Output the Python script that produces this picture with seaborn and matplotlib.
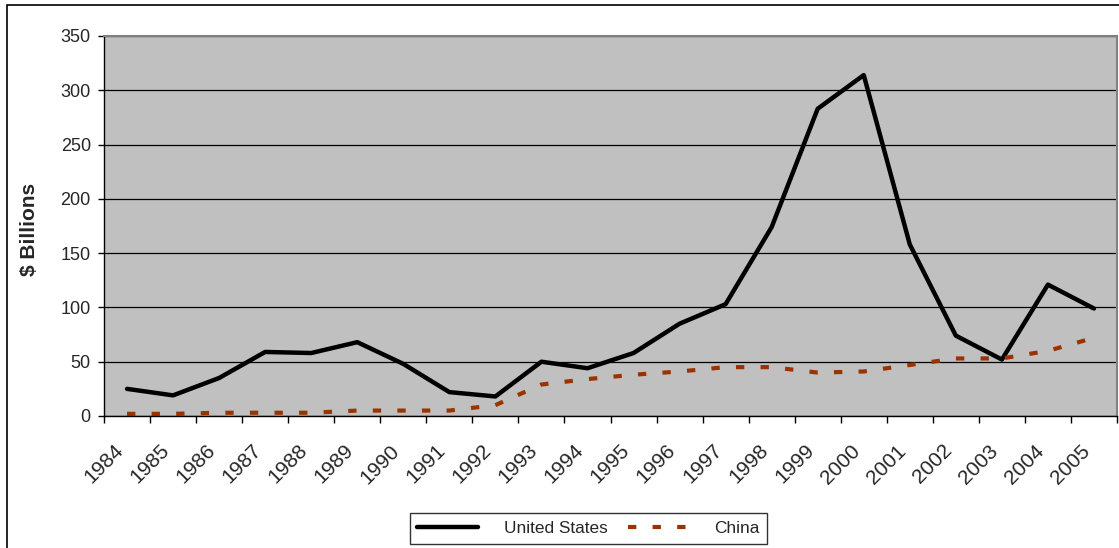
import numpy as np
import pandas as pd
import matplotlib
matplotlib.use("Agg")
import matplotlib.pyplot as plt
from matplotlib.patches import Rectangle
from matplotlib.ticker import FixedLocator
import seaborn as sns

years = list(range(1984, 2006))
us_values = [25, 19, 35, 59, 58, 68, 48, 22, 18, 50, 44, 58, 85, 103, 174, 283, 314, 158, 74, 52, 121, 99]
china_values = [2, 2, 3, 3, 3, 5, 5, 5, 10, 29, 34, 38, 41, 45, 45, 40, 41, 47, 53, 53, 60, 72]
year_labels = [str(y) for y in years]

sns.set_style("white")
plt.rcParams['font.family'] = ['Liberation Sans', 'DejaVu Sans']

df = pd.DataFrame({
    "pos": np.arange(len(years)) + 0.5,
    "United States": us_values,
    "China": china_values,
})

W, H = 1119, 548
fig = plt.figure(figsize=(W / 100, H / 100), dpi=100)
ax = fig.add_axes([104 / W, 1 - 416 / H, (1117 - 104) / W, (416 - 36) / H])
ax.set_facecolor("#C0C0C0")

sns.lineplot(data=df, x="pos", y="United States", ax=ax, color="black", lw=3.2,
             label="United States")
sns.lineplot(data=df, x="pos", y="China", ax=ax, color="#993300", lw=3,
             label="China", dashes=False)
ax.lines[1].set_dashes([2.0, 3.9])
ax.lines[1].set_dash_capstyle("butt")

ax.set_xlim(0, len(years))
ax.set_ylim(0, 350)
ax.set_yticks(np.arange(0, 351, 50))
ax.yaxis.grid(True, color="black", lw=0.9)
ax.set_axisbelow(True)

ax.xaxis.set_major_locator(FixedLocator(np.arange(0, len(years) + 1)))
ax.xaxis.set_minor_locator(FixedLocator(np.arange(len(years)) + 0.5))
ax.set_xticklabels([], minor=False)
ax.set_xticklabels(year_labels, minor=True, rotation=45, ha="right", va="top",
                   fontsize=15)
ax.tick_params(axis="x", which="major", length=5, width=1, color="black", direction="out", bottom=True)
ax.tick_params(axis="x", which="minor", length=0, pad=18)
ax.tick_params(axis="y", length=4.5, width=1, color="black", direction="out", left=True, labelsize=13, pad=5)

for s in ["left", "bottom"]:
    ax.spines[s].set_color("black")
    ax.spines[s].set_linewidth(1)
for s in ["top", "right"]:
    ax.spines[s].set_color("#808080")
    ax.spines[s].set_linewidth(1.5)

ax.set_xlabel("")
ax.set_ylabel("$ Billions", fontsize=15, fontweight="bold")
ax.yaxis.set_label_coords(39 / W, 1 - 229 / H, transform=fig.transFigure)

leg = ax.legend(loc="center", bbox_to_anchor=(588.5 / W, 1 - 528.5 / H),
                bbox_transform=fig.transFigure, ncol=2, frameon=True,
                fancybox=False, edgecolor="black", fontsize=12.4,
                handlelength=3.5, columnspacing=1.2, borderpad=0.45,
                handletextpad=1.5, borderaxespad=0)
leg.get_frame().set_linewidth(1)

fig.patches.append(Rectangle((7 / W, -0.02), 1.1, (H - 5) / H + 0.02,
                             transform=fig.transFigure, fill=False,
                             edgecolor="black", lw=1.2))

fig.savefig("out.png", dpi=100)
